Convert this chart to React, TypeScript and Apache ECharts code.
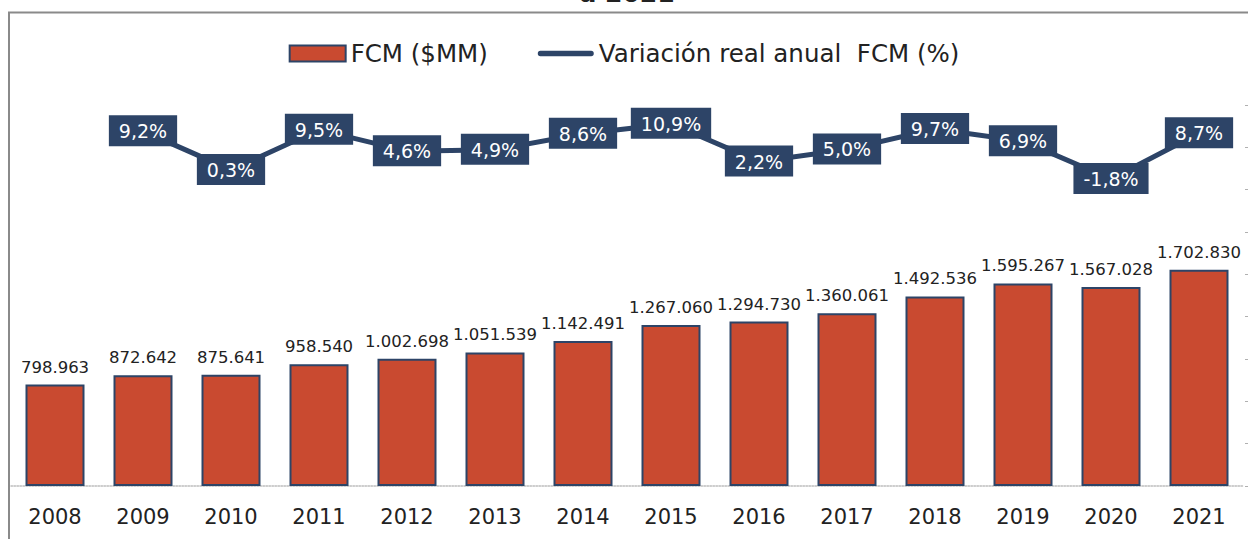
import React, { useEffect, useRef } from "react";
import * as echarts from "echarts";

const years = ["2008", "2009", "2010", "2011", "2012", "2013", "2014", "2015", "2016", "2017", "2018", "2019", "2020", "2021"];
const fcmValues = [798963, 872642, 875641, 958540, 1002698, 1051539, 1142491, 1267060, 1294730, 1360061, 1492536, 1595267, 1567028, 1702830];
const variationValues: (number | string)[] = ["-", 9.2, 0.3, 9.5, 4.6, 4.9, 8.6, 10.9, 2.2, 5.0, 9.7, 6.9, -1.8, 8.7];
const barName = "FCM ($MM)";
const lineName = "Variación real anual  FCM (%)";
const titleTail = "a 2021";

const NAVY = "#2D4467";
const RED = "#C94A30";
const FONT = "DejaVu Sans";

function fmtThousands(v: number): string {
  return String(Math.round(v)).replace(/\B(?=(\d{3})+(?!\d))/g, ".");
}

export default function App() {
  const ref = useRef<HTMLDivElement>(null);
  useEffect(() => {
    document.body.style.margin = "0";
    if (!ref.current) return;
    const chart = echarts.init(ref.current, undefined, { renderer: "svg" });
    chart.setOption({
      animation: false,
      backgroundColor: "#ffffff",
      textStyle: { fontFamily: FONT },
      graphic: [
        {
          type: "rect",
          shape: { x: 9, y: 12.5, width: 1400, height: 700 },
          style: { fill: "none", stroke: "#8a8a8a", lineWidth: 2 },
          silent: true,
          z: -10,
        },
        {
          type: "text",
          x: 627,
          y: -7,
          style: {
            text: titleTail,
            font: `bold 25px "${FONT}"`,
            fill: "#222",
            textAlign: "center",
            textVerticalAlign: "middle",
          },
          silent: true,
        },
      ],
      legend: {
        top: 36,
        left: "center",
        itemWidth: 56,
        itemHeight: 16,
        itemGap: 50,
        textStyle: { fontSize: 24.5, color: "#222", fontFamily: FONT },
        data: [
          { name: barName, icon: "rect" },
          {
            name: lineName,
            icon: "path://M3,0 H60 A3,3 0 0 1 60,6 H3 A3,3 0 0 1 3,0 Z",
            itemStyle: { color: NAVY, borderWidth: 0 },
          },
        ],
      },
      grid: { left: 11, right: 5, top: 105, bottom: 53 },
      xAxis: {
        type: "category",
        data: years,
        axisLine: { show: true, lineStyle: { color: "#bdbdbd", width: 1.5, type: "dotted" } },
        axisTick: { show: false },
        axisLabel: { fontSize: 21, color: "#222", margin: 20, fontFamily: FONT },
      },
      yAxis: [
        {
          type: "value",
          position: "right",
          offset: 2,
          min: 0,
          max: 3000000,
          interval: 3000000 / 9,
          axisLine: { show: false },
          axisTick: { show: true, length: 3, lineStyle: { color: "#b0b0b0", width: 1 } },
          axisLabel: { show: false },
          splitLine: { show: false },
        },
        {
          type: "value",
          min: -72.3,
          max: 15.2,
          show: false,
          splitLine: { show: false },
        },
      ],
      series: [
        {
          name: barName,
          type: "bar",
          data: fcmValues,
          yAxisIndex: 0,
          barWidth: 59,
          itemStyle: { color: RED, borderColor: NAVY, borderWidth: 2 },
          label: {
            show: true,
            position: "top",
            distance: 9,
            fontSize: 16.5,
            color: "#222",
            fontFamily: FONT,
            formatter: (p: any) => fmtThousands(p.value),
          },
        },
        {
          name: lineName,
          type: "line",
          data: variationValues,
          yAxisIndex: 1,
          symbol: "circle",
          symbolSize: 2,
          showSymbol: true,
          lineStyle: { color: NAVY, width: 5 },
          itemStyle: { color: NAVY },
          label: {
            show: true,
            position: "top",
            distance: 0,
            offset: [0, 16],
            fontSize: 19,
            lineHeight: 22,
            color: "#ffffff",
            fontFamily: FONT,
            backgroundColor: NAVY,
            padding: [5, 10, 4, 10],
            formatter: (p: any) => Number(p.value).toFixed(1).replace(".", ",") + "%",
          },
          z: 5,
        },
      ],
    });
    return () => chart.dispose();
  }, []);
  return <div ref={ref} style={{ width: 1248, height: 539 }} />;
}
